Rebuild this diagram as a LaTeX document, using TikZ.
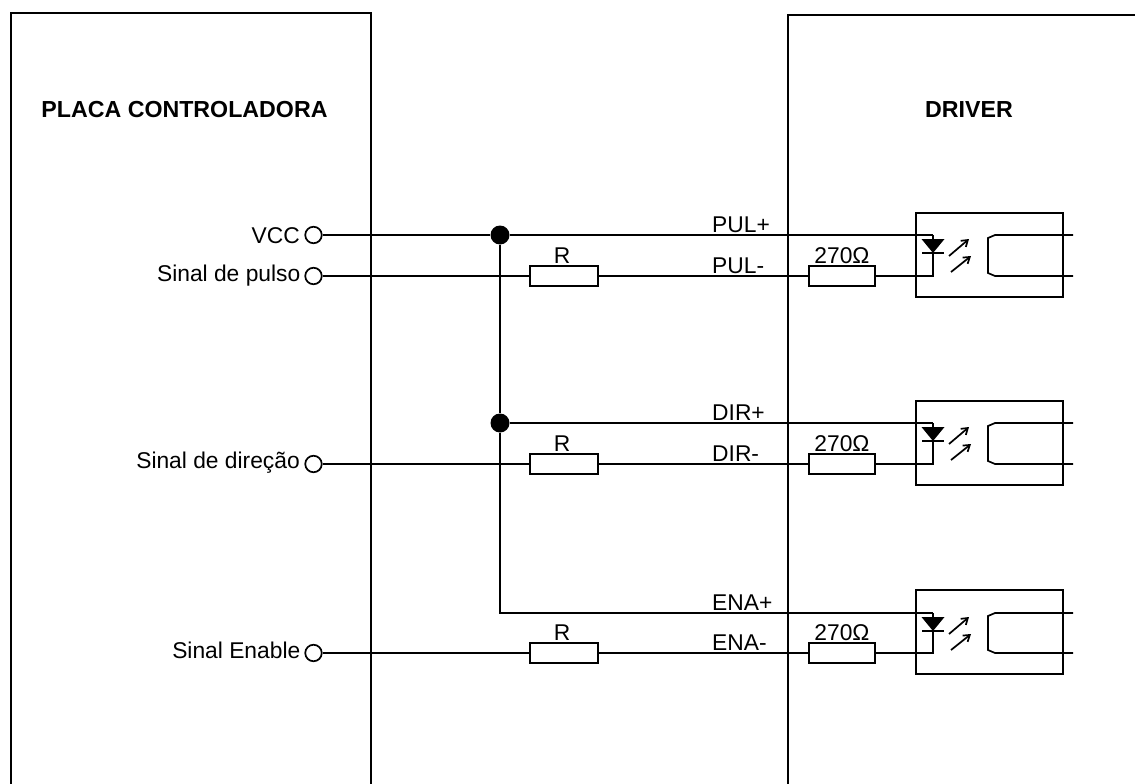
\documentclass[tikz,border=0pt]{standalone}
\usepackage{fontspec}
\setmainfont{Liberation Sans}
\usepackage{tikz}
\usetikzlibrary{arrows.meta}

\tikzset{
	wire/.style={line width=1.7pt},
	board/.style={line width=1.5pt},
	term/.style={circle,draw,line width=1.7pt,fill=white,minimum size=16.5pt,inner sep=0pt},
	res/.style={rectangle,draw,line width=1.7pt,fill=white,minimum width=68pt,minimum height=20pt,inner sep=0pt},
	dotj/.style={circle,fill=black,minimum size=19pt,inner sep=0pt},
	txt/.style={font=\fontsize{22.8}{26}\selectfont,inner sep=0pt},
	head/.style={font=\fontsize{23.2}{26}\selectfont\bfseries,inner sep=0pt,anchor=base},
	tag/.style={txt,anchor=base west},
	side/.style={txt,anchor=base east},
	barb/.style={wire,->,>={Straight Barb[length=6pt,width=8pt]}}
}

\begin{document}
\begin{tikzpicture}[x=1pt,y=-1pt]

	\useasboundingbox (0,0) rectangle (1135,784);

	\draw[board] (11,784) -- (11,13) -- (371,13) -- (371,784);
	\draw[board] (788,784) -- (788,15) -- (1135,15);
	\node[head] (placa) at (184.5,117.5) {PLACA CONTROLADORA};
	\node[head] (driver) at (969,117.5) {DRIVER};

	% one row per optocoupler: name, box, upper and lower wire, labels
	\foreach \nm/\ytop/\ybot/\ya/\yb/\lplus/\lminus in {
		PUL/213/297/235/276/PUL+/PUL-,
		DIR/401/485/423/464/DIR+/DIR-,
		ENA/590/674/613/653/ENA+/ENA-}{
		\draw[wire] (916,\ytop) rectangle (1063,\ybot);
		\coordinate (a\nm) at (933,\ya);
		\coordinate (b\nm) at (933,\yb);
		\coordinate (c\nm) at (1073,\ya);
		\coordinate (d\nm) at (1073,\yb);
		\coordinate (e\nm) at (995,\ya);
		\coordinate (f\nm) at (995,\yb);
		\node[term] (t\nm) at (313.5,\yb) {};
		\node[res] (r\nm) at (564,\yb) {};
		\node[res,minimum width=66pt] (k\nm) at (842,\yb) {};
		\draw[wire] (t\nm) -- (r\nm) -- (k\nm) -- (b\nm) -- (a\nm);
		\draw[wire] (c\nm) -- (e\nm) -- ([xshift=-7pt,yshift=-3pt]e\nm) -- ([xshift=-7pt,yshift=3pt]f\nm) -- (f\nm) -- (d\nm);
		% led and its two arrows
		\fill ([xshift=-11.5pt,yshift=-4pt]a\nm) -- ([xshift=11.5pt,yshift=-4pt]a\nm) -- ([yshift=-18pt]a\nm) -- cycle;
		\draw[wire] ([xshift=-11pt,yshift=-18pt]a\nm) -- ([xshift=11pt,yshift=-18pt]a\nm);
		\draw[barb] ([xshift=16pt,yshift=-21pt]a\nm) -- ([xshift=36pt,yshift=-4pt]a\nm);
		\draw[barb] ([xshift=18pt,yshift=-37pt]a\nm) -- ([xshift=38pt,yshift=-21pt]a\nm);
		\node[tag] (p\nm) at (712,\ya-2.5) {\lplus};
		\node[tag] (m\nm) at (712,\yb-3) {\lminus};
		\node[txt,anchor=base] (lr\nm) at (562,\yb-13) {R};
		\node[txt,anchor=base] (lk\nm) at (842,\yb-13) {270Ω};
	}

	\node[term] (tVCC) at (313.5,235) {};
	\node[dotj] (jPUL) at (500,235) {};
	\node[dotj] (jDIR) at (500,423) {};
	\coordinate (cornerENA) at (500,613);
	\draw[wire] (tVCC) -- (jPUL) -- (aPUL);
	\draw[wire] (jDIR) -- (aDIR);
	\draw[wire] (jPUL) -- (jDIR) -- (cornerENA) -- (aENA);

	\node[side] (sVCC) at (300,243) {VCC};
	\node[side] (sPUL) at (300.5,281.5) {Sinal de pulso};
	\node[side] (sDIR) at (300,468.5) {Sinal de direção};
	\node[side] (sENA) at (300.5,658) {Sinal Enable};

\end{tikzpicture}
\end{document}
